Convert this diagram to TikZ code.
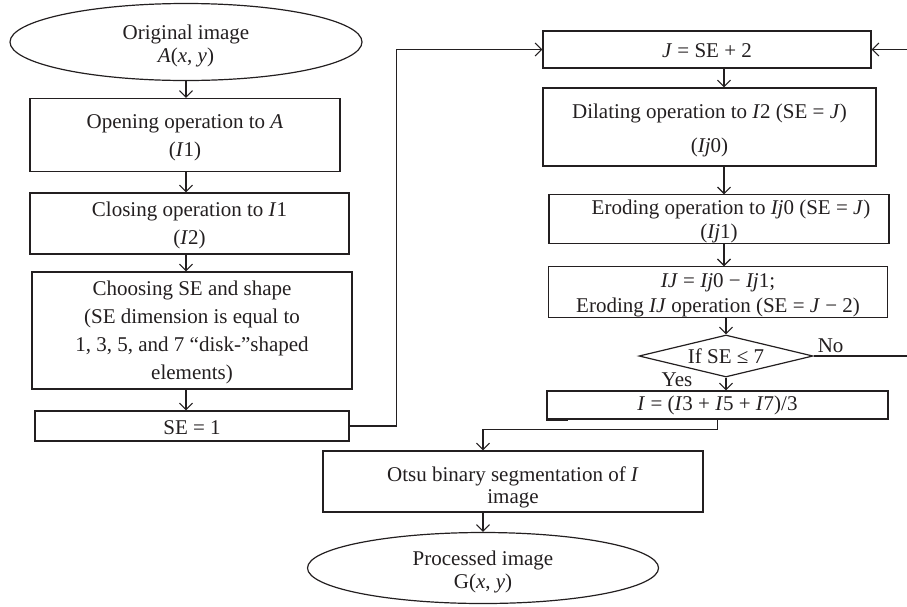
\documentclass[tikz,border=0pt]{standalone}
\usepackage{fontspec}
\setmainfont{Liberation Serif}
\usetikzlibrary{shapes.geometric,arrows.meta}
\definecolor{ink}{HTML}{231F20}
% pushes a node's text block down by #1 (extra height on its first line)
\newcommand\sinkby[1]{\rule{0pt}{\dimexpr\fontcharht\font`(+2\dimexpr#1\relax\relax}}

\begin{document}
\begin{tikzpicture}[x=1pt,y=-1pt,
  every node/.style={font=\fontsize{21}{28}\selectfont, inner sep=0pt, align=center, text=ink},
  box/.style={draw=ink, line width=1.2pt, rectangle},
  term/.style={draw=ink, line width=1.2pt, ellipse},
  test/.style={draw=ink, line width=1.2pt, diamond, aspect=4.1},
  arr/.style={draw=ink, line width=1.1pt, -{Straight Barb[length=6.5pt,width=13pt]}},
  link/.style={draw=ink, line width=1.1pt}]
\path[use as bounding box] (0,0) rectangle (907,606);

% left column
\node[term, minimum width=352pt, minimum height=77pt, font=\fontsize{21}{23}\selectfont] (start) at (186,42)
  {\sinkby{4pt}Original image\\\textit{A}(\textit{x}, \textit{y})};
\node[box, minimum width=310pt, minimum height=73pt] (open) at (185,135)
  {\sinkby{3pt}Opening operation to \textit{A}\\(\textit{I}1)};
\node[box, minimum width=319pt, minimum height=61pt] (close) at (189.5,223.5)
  {\sinkby{2pt}Closing operation to \textit{I}1\\(\textit{I}2)};
\node[box, minimum width=320pt, minimum height=117pt] (choose) at (192,330.5)
  {\sinkby{2pt}Choosing SE and shape\\(SE dimension is equal to\\1, 3, 5, and 7 “disk-”shaped\\elements)};
\node[box, minimum width=314pt, minimum height=30pt] (se1) at (192,426) {\sinkby{1.5pt}SE = 1};

% right column
\node[box, minimum width=328pt, minimum height=37pt] (jset) at (707,49.5)
  {\sinkby{1.5pt}\textit{J} = SE + 2};
\node[box, minimum width=333pt, minimum height=78pt] (dil) at (709.5,127)
  {\sinkby{4pt}Dilating operation to \textit{I}2 (SE = \textit{J})\\[6pt](\textit{Ij}0)};
\node[box, minimum width=340pt, minimum height=48pt, font=\fontsize{21}{24}\selectfont] (ero) at (719,219)
  {\sinkby{3pt}\hspace*{24pt}Eroding operation to \textit{Ij}0 (SE = \textit{J})\\(\textit{Ij}1)};
\node[box, minimum width=339pt, minimum height=48pt, font=\fontsize{21}{25}\selectfont] (diff) at (718,292)
  {\sinkby{3.5pt}\textit{IJ} = \textit{Ij}0 − \textit{Ij}1;\\Eroding \textit{IJ} operation (SE = \textit{J} − 2)};
\node[test, minimum width=174pt, minimum height=42pt] (cond) at (726,356) {If SE ≤ 7};
\node[box, minimum width=341pt, minimum height=28pt] (avg) at (717.5,405)
  {\textit{I} = (\textit{I}3 + \textit{I}5 + \textit{I}7)/3};
\draw[draw=ink, line width=2.2pt] (avg.south west) -- ++(22,0);

% bottom
\node[box, minimum width=380pt, minimum height=61pt, font=\fontsize{21}{22}\selectfont] (otsu) at (513,481.5)
  {\sinkby{6pt}Otsu binary segmentation of \textit{I}\\image};
\node[term, minimum width=351pt, minimum height=71pt, font=\fontsize{21}{23}\selectfont] (end) at (483,568)
  {\sinkby{4pt}Processed image\\G(\textit{x}, \textit{y})};

% branch labels
\node[anchor=base west] (nolab) at ([xshift=4pt,yshift=4pt]cond.east) {No};
\node (yeslab) at (677,380) {Yes};

% loose ends of the loop
\coordinate (loopin) at (907,49.5);
\coordinate (noend) at (907,356);
\coordinate (colx) at (724,0);

% connectors, left column
\draw[arr] (start.south) -- (start.south |- open.north);
\draw[arr] (open.south -| start.south) -- (start.south |- close.north);
\draw[arr] (close.south -| start.south) -- (start.south |- choose.north);
\draw[arr] (choose.south -| start.south) -- (start.south |- se1.north);
\draw[arr] (se1.east) -- ++(47,0) |- (jset.west);

% connectors, right column
\draw[arr] (loopin) -- (jset.east);
\draw[arr] (jset.south -| colx) -- (dil.north -| colx);
\draw[arr] (dil.south -| colx) -- (ero.north -| colx);
\draw[arr] (ero.south -| colx) -- (diff.north -| colx);
\draw[arr] (diff.south -| cond.north) -- (cond.north);
\draw[arr] (cond.south) -- (avg.north -| cond.south);
\draw[link] (cond.east) -- (noend);

% to the bottom
\draw[arr] (avg.south) -- ++(0,10) -| (otsu.north -| end.north);
\draw[arr] (otsu.south -| end.north) -- (end.north);
\end{tikzpicture}
\end{document}
